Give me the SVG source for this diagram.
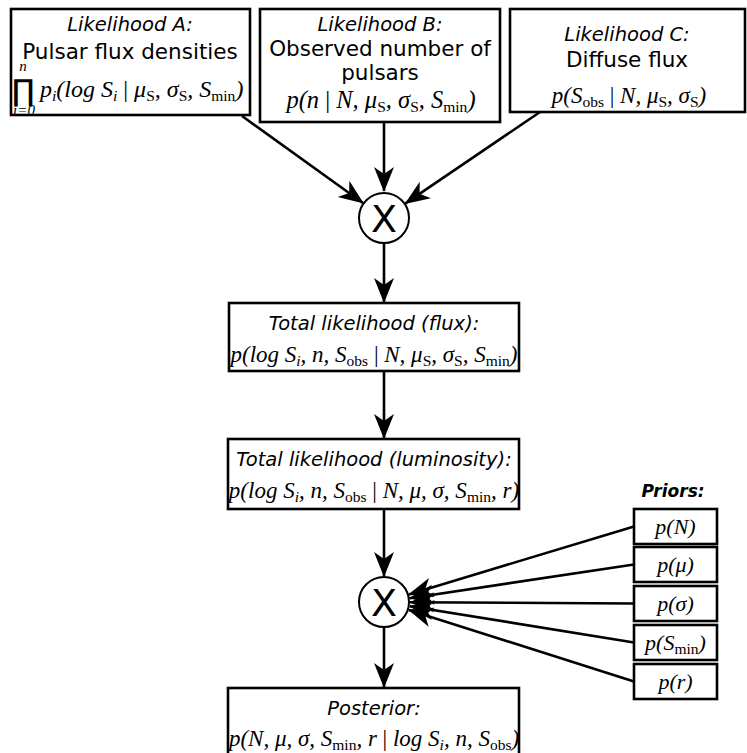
<svg xmlns="http://www.w3.org/2000/svg" width="747" height="753" viewBox="0 0 747 753">
<defs>
<style>
.box{fill:#fff;stroke:#000;stroke-width:2.6}
.circ{fill:#fff;stroke:#000;stroke-width:2}
.lab{font-family:"DejaVu Sans",sans-serif;font-style:oblique;font-size:19.5px;fill:#000;text-anchor:middle}
.txt{font-family:"DejaVu Sans",sans-serif;font-size:21.5px;fill:#000;text-anchor:middle}
.m{font-family:"Liberation Serif",serif;font-style:italic;font-size:23px;fill:#000;text-anchor:middle}
.pm{font-family:"Liberation Serif",serif;font-style:italic;font-size:22px;fill:#000;text-anchor:middle}
.up{font-style:normal}
.sub{font-style:normal;font-size:15.5px}
.x{font-family:"DejaVu Sans",sans-serif;font-size:38px;fill:#000;text-anchor:middle}
.con{stroke:#000;stroke-width:2.6;fill:none;marker-end:url(#ah)}
</style>
<marker id="ah" markerUnits="userSpaceOnUse" markerWidth="28" markerHeight="24" viewBox="-25 -12 28 24" refX="0" refY="0" orient="auto">
<path d="M1,0 L-24,-10 L-17,0 L-24,10 Z" fill="#000"/>
</marker>
</defs>

<g id="connectors">
<line class="con" x1="384" y1="122" x2="384" y2="191"/>
<line class="con" x1="242" y1="116" x2="363" y2="203"/>
<line class="con" x1="540" y1="112" x2="405.5" y2="203.4"/>
<line class="con" x1="384" y1="244" x2="384" y2="302"/>
<line class="con" x1="384" y1="371" x2="384" y2="438"/>
<line class="con" x1="384" y1="509" x2="384" y2="576"/>
<line class="con" x1="384" y1="628" x2="384" y2="687"/>
<line class="con" x1="634" y1="526.5" x2="408.9" y2="594.4"/>
<line class="con" x1="634" y1="564.5" x2="409.7" y2="598.2"/>
<line class="con" x1="634" y1="603.5" x2="410" y2="602.2"/>
<line class="con" x1="634" y1="642.5" x2="409.7" y2="606.2"/>
<line class="con" x1="634" y1="681.5" x2="408.8" y2="609.9"/>
</g>

<g id="likelihoodA">
<rect class="box" x="11" y="9" width="239" height="106"/>
<text class="lab" x="130" y="31">Likelihood A:</text>
<text class="txt" x="130" y="59">Pulsar flux densities</text>
<text x="23" y="101" style="font-family:'DejaVu Sans',sans-serif;font-size:30px;text-anchor:middle">∏</text>
<text class="m" x="23" y="71" style="font-size:15px">n</text>
<text class="m" x="24" y="115" style="font-size:15px">i=0</text>
<text class="m" x="40" y="97" style="text-anchor:start;font-size:24px">p<tspan class="sub" style="font-style:italic" dy="4">i</tspan><tspan dy="-4">(log S</tspan><tspan class="sub" style="font-style:italic" dy="4">i</tspan><tspan class="up" dy="-4"> | </tspan>μ<tspan class="sub" dy="4">S</tspan><tspan dy="-4">, σ</tspan><tspan class="sub" dy="4">S</tspan><tspan dy="-4">, S</tspan><tspan class="sub" dy="4">min</tspan><tspan dy="-4">)</tspan></text>
</g>

<g id="likelihoodB">
<rect class="box" x="260" y="9" width="240" height="113"/>
<text class="lab" x="380" y="31">Likelihood B:</text>
<text class="txt" x="380" y="56">Observed number of</text>
<text class="txt" x="380" y="80">pulsars</text>
<text class="m" x="381" y="108" style="font-size:24.5px">p(n<tspan class="up"> | </tspan>N, μ<tspan class="sub" dy="4">S</tspan><tspan dy="-4">, σ</tspan><tspan class="sub" dy="4">S</tspan><tspan dy="-4">, S</tspan><tspan class="sub" dy="4">min</tspan><tspan dy="-4">)</tspan></text>
</g>

<g id="likelihoodC">
<rect class="box" x="510" y="9" width="235" height="103"/>
<text class="lab" x="627" y="41">Likelihood C:</text>
<text class="txt" x="627" y="67">Diffuse flux</text>
<text class="m" x="629" y="103">p(S<tspan class="sub" dy="4">obs</tspan><tspan class="up" dy="-4"> | </tspan>N, μ<tspan class="sub" dy="4">S</tspan><tspan dy="-4">, σ</tspan><tspan class="sub" dy="4">S</tspan><tspan dy="-4">)</tspan></text>
</g>

<g id="product1">
<circle class="circ" cx="384" cy="218" r="25"/>
<text class="x" x="384" y="232">X</text>
</g>

<g id="totalFlux">
<rect class="box" x="229" y="303" width="290" height="68"/>
<text class="lab" x="374" y="330">Total likelihood (flux):</text>
<text class="m" x="374" y="362">p(log S<tspan class="sub" style="font-style:italic" dy="4">i</tspan><tspan dy="-4">, n, S</tspan><tspan class="sub" dy="4">obs</tspan><tspan class="up" dy="-4"> | </tspan>N, μ<tspan class="sub" dy="4">S</tspan><tspan dy="-4">, σ</tspan><tspan class="sub" dy="4">S</tspan><tspan dy="-4">, S</tspan><tspan class="sub" dy="4">min</tspan><tspan dy="-4">)</tspan></text>
</g>

<g id="totalLum">
<rect class="box" x="228" y="439" width="291" height="70"/>
<text class="lab" x="374" y="466">Total likelihood (luminosity):</text>
<text class="m" x="374" y="498">p(log S<tspan class="sub" style="font-style:italic" dy="4">i</tspan><tspan dy="-4">, n, S</tspan><tspan class="sub" dy="4">obs</tspan><tspan class="up" dy="-4"> | </tspan>N, μ, σ, S<tspan class="sub" dy="4">min</tspan><tspan dy="-4">, r)</tspan></text>
</g>

<g id="product2">
<circle class="circ" cx="384" cy="602" r="25"/>
<text class="x" x="384" y="616">X</text>
</g>

<g id="posterior">
<rect class="box" x="228" y="688" width="291" height="70"/>
<text class="lab" x="374" y="715">Posterior:</text>
<text class="m" x="374" y="746">p(N, μ, σ, S<tspan class="sub" dy="4">min</tspan><tspan dy="-4">, r</tspan><tspan class="up"> | </tspan>log S<tspan class="sub" style="font-style:italic" dy="4">i</tspan><tspan dy="-4">, n, S</tspan><tspan class="sub" dy="4">obs</tspan><tspan dy="-4">)</tspan></text>
</g>

<g id="priors">
<text class="lab" x="673" y="497" style="font-weight:bold;font-size:17px">Priors:</text>
</g>
<g id="priorN">
<rect class="box" x="634" y="509" width="83" height="35"/>
<text class="pm" x="675.5" y="534">p(N)</text>
</g>
<g id="priorMu">
<rect class="box" x="634" y="547" width="83" height="35"/>
<text class="pm" x="675.5" y="572">p(μ)</text>
</g>
<g id="priorSigma">
<rect class="box" x="634" y="586" width="83" height="35"/>
<text class="pm" x="675.5" y="611">p(σ)</text>
</g>
<g id="priorSmin">
<rect class="box" x="634" y="625" width="83" height="35"/>
<text class="pm" x="675.5" y="650">p(S<tspan class="sub" dy="4">min</tspan><tspan dy="-4">)</tspan></text>
</g>
<g id="priorR">
<rect class="box" x="634" y="664" width="83" height="35"/>
<text class="pm" x="675.5" y="689">p(r)</text>
</g>
</svg>
